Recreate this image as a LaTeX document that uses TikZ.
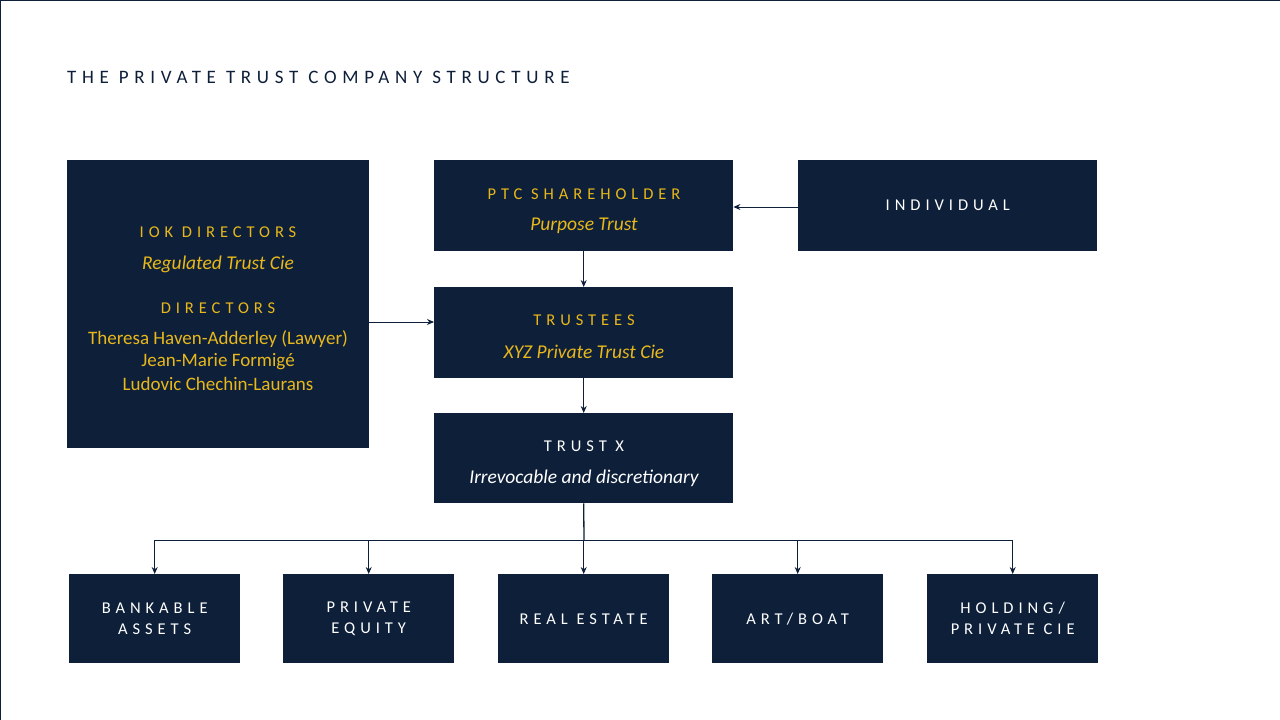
\documentclass[tikz,border=0pt]{standalone}
\usepackage{fontspec}
\setmainfont{Carlito}
\newfontfamily\spacedfont{Carlito}[LetterSpace=30]
\usetikzlibrary{positioning, arrows.meta}
\definecolor{navy}{RGB}{14,31,58}
\definecolor{gold}{RGB}{232,184,26}
\newcommand{\hdtx}{\spacedfont\fontsize{16.5}{21}\selectfont}
\newcommand{\subtx}{\fontsize{19.5}{22}\selectfont\itshape}
\newcommand{\titletx}{\spacedfont\fontsize{19}{22}\selectfont}
\tikzset{
    box/.style={fill=navy, inner sep=0pt, anchor=north west},
    head/.style={font=\hdtx, inner sep=0pt},
    sub/.style={font=\subtx, inner sep=0pt},
    person/.style={font=\fontsize{19}{22}\selectfont, inner sep=0pt, text=gold},
    link/.style={-{Stealth[length=7pt,width=6pt]}, navy, line width=1pt},
}
\begin{document}
\begin{tikzpicture}[x=1pt,y=-1pt]
    % Frame
    \useasboundingbox (0,0) rectangle (1280,720);
    \draw[navy, line width=1pt] (0.5,720) -- (0.5,0.5) -- (1280,0.5);

    \node[anchor=west, text=navy, inner sep=0pt, font=\titletx] (title) at (67,77) {THE PRIVATE TRUST COMPANY STRUCTURE};

    % Top boxes
    \node[box, minimum width=302, minimum height=288] (iok) at (67,160) {};
    \node[head, text=gold] (iokh) at (218,232) {IOK DIRECTORS};
    \node[sub, text=gold] (ioks) at (218,264) {Regulated Trust Cie};
    \node[head, text=gold] (dirh) at (218,308) {DIRECTORS};
    \node[person] (dir1) at (218,339) {Theresa Haven-Adderley (Lawyer)};
    \node[person] (dir2) at (218,362) {Jean-Marie Formigé};
    \node[person] (dir3) at (218,384) {Ludovic Chechin-Laurans};

    \node[box, minimum width=299, minimum height=91] (ptc) at (434,160) {};
    \node[head, text=gold] (ptch) at (584,194) {PTC SHAREHOLDER};
    \node[sub, text=gold] (ptcs) at (584,226) {Purpose Trust};

    \node[box, minimum width=299, minimum height=91] (indiv) at (798,160) {};
    \node[head, text=white] (indivh) at (indiv.center) {INDIVIDUAL};

    \node[box, minimum width=299, minimum height=91] (trustees) at (434,287) {};
    \node[head, text=gold] (trusteesh) at (584,320) {TRUSTEES};
    \node[sub, text=gold] (trusteess) at (584,352) {XYZ Private Trust Cie};

    \node[box, minimum width=299, minimum height=90] (trustx) at (434,413) {};
    \node[head, text=white] (trustxh) at (584,446) {TRUST X};
    \node[sub, text=white] (trustxs) at (584,478) {Irrevocable and discretionary};

    % Asset boxes
    \foreach \asset/\x/\txt in {bank/69/{BANKABLE\\ASSETS}, equity/283/{PRIVATE\\EQUITY},
        estate/498/{REAL ESTATE}, art/712/{ART/BOAT}, holding/927/{HOLDING/\\PRIVATE CIE}} {
        \node[box, minimum width=171, minimum height=89] (\asset) at (\x,574) {};
        \node[text=white, align=center, inner sep=0pt, font=\hdtx] at (\asset.center) {\txt};
    }

    % Connectors
    \draw[link] (indiv.west |- 0,207) -- (ptc.east |- 0,207);
    \draw[link] (iok.east |- 0,322) -- (trustees.west |- 0,322);
    \draw[link] (ptc) -- (trustees);
    \draw[link] (trustees) -- (trustx);
    \coordinate (bus) at (584,540);
    \draw[navy, line width=1.3pt] (trustx.south) -- (bus);
    \foreach \asset in {bank, equity, estate, art, holding}
        \draw[link] (bus) -| (\asset.north);
\end{tikzpicture}
\end{document}
